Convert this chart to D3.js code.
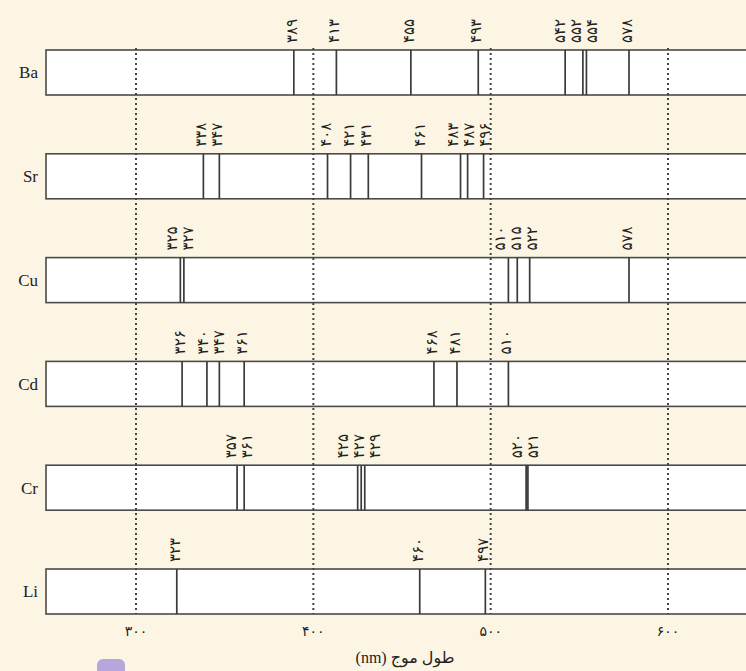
<!DOCTYPE html>
<html>
<head>
<meta charset="utf-8">
<script src="https://cdn.jsdelivr.net/npm/d3@7"></script>
<style>
  body { margin: 0; background: #fcf5e3; }
  svg { display: block; }
</style>
</head>
<body>
<svg id="chart" width="746" height="671"></svg>
<script>
// elements, top to bottom
const elements = ['Ba', 'Sr', 'Cu', 'Cd', 'Cr', 'Li'];

// emission lines (nm) for each element
const baLines = [389, 413, 455, 493, 542, 552, 554, 578];
const srLines = [338, 347, 408, 421, 431, 461, 483, 487, 496];
const cuLines = [325, 327, 510, 515, 522, 578];
const cdLines = [326, 340, 347, 361, 468, 481, 510];
const crLines = [357, 361, 425, 427, 429, 520, 521];
const liLines = [323, 460, 497];

const xTicks = [300, 400, 500, 600];
const axisTitle = 'طول موج (nm)';

const spectra = {
  Ba: baLines, Sr: srLines, Cu: cuLines, Cd: cdLines, Cr: crLines, Li: liLines
};

// persian digits
const fa = n => String(n).replace(/\d/g, d => '۰۱۲۳۴۵۶۷۸۹'[d]);

const svg = d3.select('#chart');
const width = 746, height = 671;
const boxLeft = 46, boxH = 45;

svg.append('rect')
  .attr('width', width).attr('height', height)
  .attr('fill', '#fcf5e3');

const x = d3.scaleLinear()
  .domain([300, 600])
  .range([136, 668]);

const y = d3.scaleBand()
  .domain(elements)
  .range([50, 50 + 6 * 103.8]);

// white boxes
svg.selectAll('rect.box')
  .data(elements)
  .enter()
  .append('rect')
  .attr('class', 'box')
  .attr('x', boxLeft)
  .attr('y', d => y(d))
  .attr('width', width - boxLeft + 20)
  .attr('height', boxH)
  .attr('fill', 'white')
  .attr('stroke', '#4a4a4a')
  .attr('stroke-width', 1.6);

// element names
svg.selectAll('text.el')
  .data(elements)
  .enter()
  .append('text')
  .attr('class', 'el')
  .attr('x', 38)
  .attr('y', d => y(d) + boxH / 2)
  .attr('dy', '0.35em')
  .attr('text-anchor', 'end')
  .attr('font-family', '"Liberation Serif", serif')
  .attr('font-size', 17)
  .attr('fill', '#222')
  .text(d => d);

// dotted grid lines
const yTop = y('Ba') - 2, yBot = y('Li') + boxH;
svg.selectAll('line.grid')
  .data(xTicks)
  .enter()
  .append('line')
  .attr('class', 'grid')
  .attr('x1', d => x(d)).attr('x2', d => x(d))
  .attr('y1', yTop).attr('y2', yBot)
  .attr('stroke', '#444')
  .attr('stroke-width', 2)
  .attr('stroke-dasharray', '2,3');

// spread crowded labels apart
function spread(xs, gap) {
  const p = xs.slice();
  for (let it = 0; it < 200; it++) {
    let moved = false;
    for (let i = 1; i < p.length; i++) {
      const d = p[i] - p[i - 1];
      if (d < gap) {
        const s = (gap - d) / 2;
        p[i - 1] -= s; p[i] += s;
        moved = true;
      }
    }
    if (!moved) break;
  }
  return p;
}

elements.forEach(el => {
  const lines = spectra[el];
  const g = svg.append('g');
  const top = y(el);

  g.selectAll('line.spec')
    .data(lines)
    .enter()
    .append('line')
    .attr('class', 'spec')
    .attr('x1', d => x(d)).attr('x2', d => x(d))
    .attr('y1', top).attr('y2', top + boxH)
    .attr('stroke', '#3a3a3a')
    .attr('stroke-width', 1.7);

  const lx = spread(lines.map(d => x(d) - 2), 16);
  g.selectAll('text.lab')
    .data(lines)
    .enter()
    .append('text')
    .attr('class', 'lab')
    .attr('transform', (d, i) => `translate(${lx[i]},${top - 7}) rotate(-90)`)
    .attr('dominant-baseline', 'central')
    .attr('font-family', '"DejaVu Sans", sans-serif')
    .attr('font-size', 15)
    .attr('fill', '#222')
    .text(d => fa(d));
});

// tick labels
svg.selectAll('text.tick')
  .data(xTicks)
  .enter()
  .append('text')
  .attr('class', 'tick')
  .attr('x', d => x(d))
  .attr('y', 636)
  .attr('text-anchor', 'middle')
  .attr('font-family', '"DejaVu Sans", sans-serif')
  .attr('font-size', 14)
  .attr('fill', '#222')
  .text(d => fa(d));

svg.append('text')
  .attr('x', 405)
  .attr('y', 663)
  .attr('text-anchor', 'middle')
  .attr('direction', 'rtl')
  .attr('font-family', '"Liberation Serif", "DejaVu Sans", serif')
  .attr('font-size', 16)
  .attr('fill', '#222')
  .text(axisTitle);

// page badge, cut off at bottom
svg.append('rect')
  .attr('x', 97).attr('y', 659)
  .attr('width', 28).attr('height', 22)
  .attr('rx', 6)
  .attr('fill', '#b5a6dc');
</script>
</body>
</html>
